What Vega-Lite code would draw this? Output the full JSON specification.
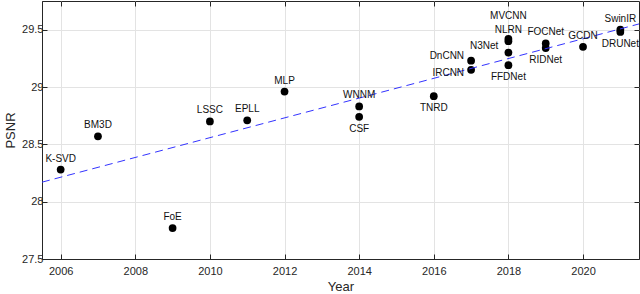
{
  "$schema": "https://vega.github.io/schema/vega-lite/v6.json",
  "width": 597,
  "height": 258,
  "autosize": {"type": "none"},
  "padding": {"left": 42, "top": 1, "right": 1, "bottom": 35},
  "background": "white",
  "config": {
    "font": "Liberation Sans",
    "view": {"stroke": "#262626", "strokeWidth": 1},
    "axis": {
      "labelFont": "Liberation Sans",
      "titleFont": "Liberation Sans",
      "labelColor": "#262626",
      "titleColor": "#262626",
      "labelFontSize": 11,
      "titleFontSize": 13,
      "titleFontWeight": "normal",
      "domainColor": "#262626",
      "tickColor": "#262626",
      "gridColor": "#e3e3e3",
      "gridOpacity": 1
    }
  },
  "datasets": {
    "pts": [
      {"name": "K-SVD", "year": 2006, "psnr": 28.28},
      {"name": "BM3D", "year": 2007, "psnr": 28.57},
      {"name": "FoE", "year": 2009, "psnr": 27.77},
      {"name": "LSSC", "year": 2010, "psnr": 28.70},
      {"name": "EPLL", "year": 2011, "psnr": 28.71},
      {"name": "MLP", "year": 2012, "psnr": 28.96},
      {"name": "WNNM", "year": 2014, "psnr": 28.83},
      {"name": "CSF", "year": 2014, "psnr": 28.74},
      {"name": "TNRD", "year": 2016, "psnr": 28.92},
      {"name": "DnCNN", "year": 2017, "psnr": 29.23},
      {"name": "IRCNN", "year": 2017, "psnr": 29.15},
      {"name": "MVCNN", "year": 2018, "psnr": 29.42},
      {"name": "NLRN", "year": 2018, "psnr": 29.40},
      {"name": "N3Net", "year": 2018, "psnr": 29.30},
      {"name": "FFDNet", "year": 2018, "psnr": 29.19},
      {"name": "FOCNet", "year": 2019, "psnr": 29.38},
      {"name": "RIDNet", "year": 2019, "psnr": 29.34},
      {"name": "GCDN", "year": 2020, "psnr": 29.35},
      {"name": "SwinIR", "year": 2021, "psnr": 29.50},
      {"name": "DRUNet", "year": 2021, "psnr": 29.48}
    ],
    "fit": [
      {"year": 2005.5, "psnr": 28.17},
      {"year": 2021.5, "psnr": 29.55}
    ]
  },
  "resolve": {"axis": {"x": "independent", "y": "independent"}},
  "layer": [
    {
      "data": {"name": "pts"},
      "mark": {"type": "point", "filled": true, "color": "black", "opacity": 1, "size": 60},
      "encoding": {
        "x": {"field": "year", "type": "quantitative",
          "scale": {"domain": [2005.5, 2021.5], "nice": false, "zero": false},
          "axis": {"title": "Year", "values": [2006, 2008, 2010, 2012, 2014, 2016, 2018, 2020], "format": "d", "tickSize": -5, "labelPadding": 11, "titlePadding": 4, "domain": true}},
        "y": {"field": "psnr", "type": "quantitative",
          "scale": {"domain": [27.5, 29.75], "nice": false, "zero": false},
          "axis": {"title": "PSNR", "values": [27.5, 28, 28.5, 29, 29.5], "format": "~g", "tickSize": -5, "labelPadding": 4, "titlePadding": 4}}
      }
    },
    {
      "data": {"name": "fit"},
      "mark": {"type": "line", "color": "#3333ff", "strokeWidth": 1, "strokeDash": [8, 5], "clip": true},
      "encoding": {
        "x": {"field": "year", "type": "quantitative",
          "axis": {"orient": "top", "values": [2006, 2008, 2010, 2012, 2014, 2016, 2018, 2020], "labels": false, "title": null, "grid": false, "tickSize": -5, "domain": false}},
        "y": {"field": "psnr", "type": "quantitative",
          "axis": {"orient": "right", "values": [27.5, 28, 28.5, 29, 29.5], "labels": false, "title": null, "grid": false, "tickSize": -5, "domain": false}}
      }
    },
    {
      "data": {"name": "pts"},
      "transform": [{"filter": {"field": "name", "oneOf": ["K-SVD", "BM3D", "FoE", "LSSC", "EPLL", "MLP", "WNNM", "NLRN", "FOCNet", "GCDN", "SwinIR"]}}],
      "mark": {"type": "text", "fontSize": 10, "dy": -11, "baseline": "middle", "color": "#111"},
      "encoding": {
        "x": {"field": "year", "type": "quantitative", "axis": null},
        "y": {"field": "psnr", "type": "quantitative", "axis": null},
        "text": {"field": "name"}
      }
    },
    {
      "data": {"name": "pts"},
      "transform": [{"filter": {"field": "name", "oneOf": ["MVCNN"]}}],
      "mark": {"type": "text", "fontSize": 10, "dy": -23, "baseline": "middle", "color": "#111"},
      "encoding": {
        "x": {"field": "year", "type": "quantitative", "axis": null},
        "y": {"field": "psnr", "type": "quantitative", "axis": null},
        "text": {"field": "name"}
      }
    },
    {
      "data": {"name": "pts"},
      "transform": [{"filter": {"field": "name", "oneOf": ["TNRD", "CSF", "FFDNet", "RIDNet", "DRUNet"]}}],
      "mark": {"type": "text", "fontSize": 10, "dy": 12, "baseline": "middle", "color": "#111"},
      "encoding": {
        "x": {"field": "year", "type": "quantitative", "axis": null},
        "y": {"field": "psnr", "type": "quantitative", "axis": null},
        "text": {"field": "name"}
      }
    },
    {
      "data": {"name": "pts"},
      "transform": [{"filter": {"field": "name", "oneOf": ["DnCNN"]}}],
      "mark": {"type": "text", "fontSize": 10, "dx": -7, "dy": -5, "align": "right", "baseline": "middle", "color": "#111"},
      "encoding": {
        "x": {"field": "year", "type": "quantitative", "axis": null},
        "y": {"field": "psnr", "type": "quantitative", "axis": null},
        "text": {"field": "name"}
      }
    },
    {
      "data": {"name": "pts"},
      "transform": [{"filter": {"field": "name", "oneOf": ["IRCNN"]}}],
      "mark": {"type": "text", "fontSize": 10, "dx": -7, "dy": 3, "align": "right", "baseline": "middle", "color": "#111"},
      "encoding": {
        "x": {"field": "year", "type": "quantitative", "axis": null},
        "y": {"field": "psnr", "type": "quantitative", "axis": null},
        "text": {"field": "name"}
      }
    },
    {
      "data": {"name": "pts"},
      "transform": [{"filter": {"field": "name", "oneOf": ["N3Net"]}}],
      "mark": {"type": "text", "fontSize": 10, "dx": -10, "dy": -7, "align": "right", "baseline": "middle", "color": "#111"},
      "encoding": {
        "x": {"field": "year", "type": "quantitative", "axis": null},
        "y": {"field": "psnr", "type": "quantitative", "axis": null},
        "text": {"field": "name"}
      }
    }
  ]
}
